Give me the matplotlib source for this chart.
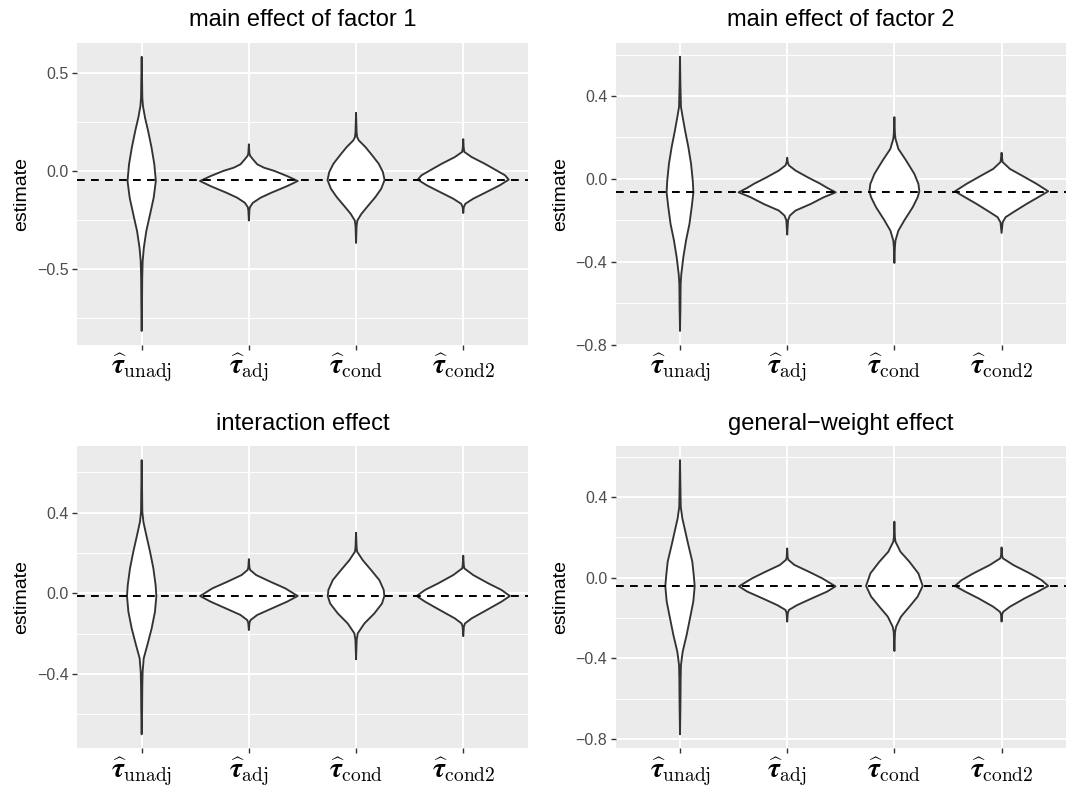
import matplotlib

matplotlib.use("Agg")
import matplotlib.pyplot as plt
import numpy as np

plt.rcParams["font.family"] = ["Liberation Sans", "DejaVu Sans"]
plt.rcParams["mathtext.fontset"] = "cm"

categories = [
    r"$\widehat{\boldsymbol{\tau}}_{\mathrm{unadj}}$",
    r"$\widehat{\boldsymbol{\tau}}_{\mathrm{adj}}$",
    r"$\widehat{\boldsymbol{\tau}}_{\mathrm{cond}}$",
    r"$\widehat{\boldsymbol{\tau}}_{\mathrm{cond2}}$",
]

titles = [
    "main effect of factor 1",
    "main effect of factor 2",
    "interaction effect",
    "general\u2212weight effect",
]

# true effect (dashed line) per panel
truth = [-0.047, -0.062, -0.013, -0.042]

# violin outlines: estimate levels (top -> bottom)
# and half widths (in category units), one list per estimator
f1_y = [
    [0.581, 0.45, 0.374, 0.33, 0.272, 0.204, 0.119, 0.034, -0.051, -0.136, -0.221, -0.306, -0.391, -0.46, -0.55, -0.70, -0.814],
    [0.136, 0.09, 0.077, 0.06, 0.034, 0.017, 0.0, -0.026, -0.051, -0.077, -0.111, -0.136, -0.162, -0.184, -0.2, -0.252],
    [0.296, 0.2, 0.173, 0.156, 0.122, 0.08, 0.037, -0.005, -0.046, -0.09, -0.133, -0.175, -0.218, -0.252, -0.28, -0.366],
    [0.162, 0.12, 0.097, 0.071, 0.037, 0.003, -0.022, -0.044, -0.073, -0.107, -0.141, -0.167, -0.185, -0.214],
]
f1_w = [
    [0, 0.004, 0.006, 0.012, 0.031, 0.060, 0.092, 0.118, 0.132, 0.112, 0.078, 0.043, 0.020, 0.009, 0.005, 0.003, 0],
    [0, 0.005, 0.012, 0.037, 0.078, 0.14, 0.24, 0.357, 0.456, 0.357, 0.208, 0.109, 0.037, 0.01, 0.005, 0],
    [0, 0.005, 0.01, 0.025, 0.087, 0.15, 0.211, 0.25, 0.266, 0.235, 0.18, 0.115, 0.05, 0.012, 0.005, 0],
    [0, 0.004, 0.01, 0.078, 0.20, 0.31, 0.39, 0.424, 0.34, 0.217, 0.093, 0.019, 0.005, 0],
]

f2_y = [
    [0.589, 0.45, 0.347, 0.298, 0.234, 0.153, 0.073, -0.008, -0.065, -0.137, -0.218, -0.298, -0.379, -0.46, -0.508, -0.62, -0.734],
    [0.102, 0.08, 0.065, 0.04, 0.008, -0.024, -0.044, -0.065, -0.089, -0.121, -0.153, -0.177, -0.2, -0.269],
    [0.298, 0.22, 0.194, 0.145, 0.089, 0.024, -0.024, -0.06, -0.089, -0.137, -0.2, -0.25, -0.298, -0.33, -0.406],
    [0.126, 0.1, 0.081, 0.048, 0.008, -0.024, -0.06, -0.089, -0.121, -0.161, -0.185, -0.21, -0.261],
]
f2_w = [
    [0, 0.004, 0.009, 0.025, 0.047, 0.078, 0.103, 0.119, 0.125, 0.109, 0.088, 0.056, 0.031, 0.012, 0.006, 0.004, 0],
    [0, 0.005, 0.016, 0.078, 0.19, 0.31, 0.375, 0.453, 0.34, 0.22, 0.078, 0.025, 0.008, 0],
    [0, 0.005, 0.01, 0.037, 0.109, 0.186, 0.224, 0.233, 0.217, 0.171, 0.093, 0.037, 0.01, 0.005, 0],
    [0, 0.005, 0.01, 0.078, 0.217, 0.326, 0.435, 0.34, 0.233, 0.109, 0.037, 0.01, 0],
]

f3_y = [
    [0.661, 0.5, 0.405, 0.355, 0.289, 0.207, 0.124, 0.041, -0.013, -0.091, -0.174, -0.256, -0.322, -0.388, -0.455, -0.58, -0.699],
    [0.17, 0.13, 0.116, 0.091, 0.058, 0.025, -0.013, -0.041, -0.074, -0.107, -0.132, -0.145, -0.182],
    [0.301, 0.23, 0.207, 0.165, 0.116, 0.066, 0.017, -0.013, -0.05, -0.099, -0.149, -0.198, -0.23, -0.327],
    [0.187, 0.14, 0.124, 0.091, 0.05, 0.017, -0.013, -0.041, -0.083, -0.124, -0.149, -0.165, -0.212],
]
f3_w = [
    [0, 0.004, 0.006, 0.016, 0.043, 0.078, 0.109, 0.13, 0.137, 0.124, 0.093, 0.053, 0.019, 0.009, 0.006, 0.004, 0],
    [0, 0.005, 0.012, 0.068, 0.2, 0.34, 0.455, 0.357, 0.217, 0.078, 0.016, 0.006, 0],
    [0, 0.005, 0.01, 0.062, 0.14, 0.217, 0.258, 0.264, 0.242, 0.171, 0.078, 0.016, 0.006, 0],
    [0, 0.005, 0.01, 0.093, 0.233, 0.357, 0.435, 0.357, 0.217, 0.078, 0.016, 0.006, 0],
]

f4_y = [
    [0.583, 0.45, 0.352, 0.294, 0.228, 0.162, 0.079, -0.003, -0.043, -0.119, -0.202, -0.284, -0.367, -0.433, -0.5, -0.64, -0.777],
    [0.145, 0.1, 0.088, 0.063, 0.03, -0.003, -0.043, -0.069, -0.102, -0.136, -0.16, -0.175, -0.218],
    [0.278, 0.2, 0.179, 0.129, 0.079, 0.021, -0.041, -0.094, -0.144, -0.193, -0.243, -0.27, -0.364],
    [0.15, 0.11, 0.096, 0.063, 0.021, -0.012, -0.041, -0.069, -0.102, -0.144, -0.169, -0.18, -0.218],
]
f4_w = [
    [0, 0.004, 0.007, 0.022, 0.05, 0.078, 0.115, 0.131, 0.137, 0.124, 0.093, 0.062, 0.025, 0.009, 0.006, 0.004, 0],
    [0, 0.005, 0.012, 0.068, 0.2, 0.326, 0.45, 0.373, 0.233, 0.093, 0.016, 0.006, 0],
    [0, 0.005, 0.01, 0.056, 0.14, 0.224, 0.264, 0.217, 0.14, 0.062, 0.016, 0.006, 0],
    [0, 0.005, 0.012, 0.109, 0.264, 0.373, 0.435, 0.34, 0.217, 0.078, 0.016, 0.006, 0],
]

major_ticks = [[-0.5, 0.0, 0.5], [-0.8, -0.4, 0.0, 0.4], [-0.4, 0.0, 0.4], [-0.8, -0.4, 0.0, 0.4]]
minor_ticks = [[-0.75, -0.25, 0.25], [-0.6, -0.2, 0.2, 0.6], [-0.6, -0.2, 0.2, 0.6], [-0.6, -0.2, 0.2, 0.6]]


def draw_panel(ax, vys, vws, hline, title, majors, minors):
    ax.set_facecolor("#EBEBEB")
    for sp in ax.spines.values():
        sp.set_visible(False)

    for i, (ys, ws) in enumerate(zip(vys, vws)):
        ys = np.asarray(ys)
        ws = np.asarray(ws)
        xs = np.concatenate([i - ws, (i + ws)[::-1]])
        yy = np.concatenate([ys, ys[::-1]])
        ax.fill(xs, yy, facecolor="white", edgecolor="#333333", lw=1.35, zorder=3, joinstyle="round")

    ax.axhline(hline, color="black", lw=1.4, dashes=(4, 3.2), zorder=4)

    # ggplot style 5% expansion of the data range
    lo = min(min(v) for v in vys)
    hi = max(max(v) for v in vys)
    pad = 0.05 * (hi - lo)
    ax.set_ylim(lo - pad, hi + pad)
    ax.set_xlim(-0.6, len(vys) - 0.4)

    ax.set_yticks(majors)
    ax.set_yticklabels([f"{t:.1f}".replace("-", "\u2212") for t in majors])
    ax.set_yticks(minors, minor=True)
    ax.set_xticks(range(len(categories)))
    ax.set_xticklabels(categories)

    ax.grid(True, which="major", color="white", lw=1.4, zorder=0)
    ax.grid(True, which="minor", axis="y", color="white", lw=0.7, zorder=0)
    ax.set_axisbelow(True)

    ax.tick_params(axis="y", which="major", length=3.5, width=1.0, color="#333333",
                   labelcolor="#4D4D4D", labelsize=11.5, pad=2.5)
    ax.tick_params(axis="x", which="major", length=3.5, width=1.0, color="#333333",
                   labelcolor="black", labelsize=20, pad=1.5)
    ax.tick_params(which="minor", length=0)

    ax.set_ylabel("estimate", fontsize=14, labelpad=5)
    ax.set_title(title, fontsize=17, pad=12)


def main():
    fig = plt.figure(figsize=(10.76, 8.07), dpi=100)
    fig.patch.set_facecolor("white")

    w, h = 0.4184, 0.3737
    positions = [
        [0.0719, 0.5729, w, h],
        [0.5722, 0.5729, w, h],
        [0.0719, 0.0731, w, h],
        [0.5722, 0.0731, w, h],
    ]
    panels = [(f1_y, f1_w), (f2_y, f2_w), (f3_y, f3_w), (f4_y, f4_w)]

    for k, pos in enumerate(positions):
        ax = fig.add_axes(pos)
        vys, vws = panels[k]
        draw_panel(ax, vys, vws, truth[k], titles[k], major_ticks[k], minor_ticks[k])

    fig.savefig("out.png", dpi=100)


if __name__ == "__main__":
    main()
